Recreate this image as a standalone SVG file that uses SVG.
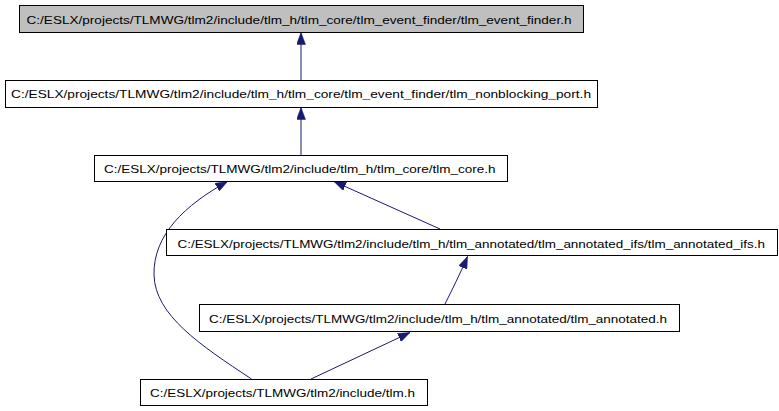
<svg xmlns="http://www.w3.org/2000/svg" width="779" height="411" viewBox="0 0 779 411">
<style>
.box{fill:#ffffff;stroke:#000000;stroke-width:1}
.gray{fill:#bfbfbf}
.lbl{font-family:"Liberation Sans",Arial,sans-serif;font-size:11.5px;fill:#000000}
.edge{fill:none;stroke:#191970;stroke-width:1;marker-end:url(#arr)}
</style>
<defs>
<marker id="arr" viewBox="0 0 12 9" markerWidth="12" markerHeight="9" refX="12" refY="4.5" orient="auto" markerUnits="userSpaceOnUse">
<path d="M0,0 L12,4.5 L0,9 z" fill="#191970" stroke="#191970" stroke-width="0.5"/>
</marker>
</defs>
<rect width="779" height="411" fill="#ffffff"/>
<g id="connectors">
<path class="edge" d="M301,80 L301,32.5"/>
<path class="edge" d="M301,155 L301,107.5"/>
<path class="edge" d="M440,229 L334,181.5"/>
<path class="edge" d="M445,304 C452,290 460,274 467.5,256.5"/>
<path class="edge" d="M311,379 L410,332.5"/>
<path class="edge" d="M251.5,379 C200,345 155,315 154,275 C153,235 185,205 227.5,181.5"/>
</g>
<g id="node1">
<rect class="box gray" x="19.5" y="5.5" width="564" height="27"/>
<text class="lbl" x="26.5" y="23.5" textLength="545" lengthAdjust="spacingAndGlyphs">C:/ESLX/projects/TLMWG/tlm2/include/tlm_h/tlm_core/tlm_event_finder/tlm_event_finder.h</text>
</g>
<g id="node2">
<rect class="box" x="5.5" y="80.5" width="592" height="27"/>
<text class="lbl" x="11" y="98" textLength="580" lengthAdjust="spacingAndGlyphs">C:/ESLX/projects/TLMWG/tlm2/include/tlm_h/tlm_core/tlm_event_finder/tlm_nonblocking_port.h</text>
</g>
<g id="node3">
<rect class="box" x="94.5" y="155.5" width="413" height="26"/>
<text class="lbl" x="104" y="173" textLength="391.5" lengthAdjust="spacingAndGlyphs">C:/ESLX/projects/TLMWG/tlm2/include/tlm_h/tlm_core/tlm_core.h</text>
</g>
<g id="node4">
<rect class="box" x="166.5" y="229.5" width="611" height="26"/>
<text class="lbl" x="177.5" y="247.5" textLength="587.5" lengthAdjust="spacingAndGlyphs">C:/ESLX/projects/TLMWG/tlm2/include/tlm_h/tlm_annotated/tlm_annotated_ifs/tlm_annotated_ifs.h</text>
</g>
<g id="node5">
<rect class="box" x="199.5" y="304.5" width="480" height="27"/>
<text class="lbl" x="209" y="322.5" textLength="458" lengthAdjust="spacingAndGlyphs">C:/ESLX/projects/TLMWG/tlm2/include/tlm_h/tlm_annotated/tlm_annotated.h</text>
</g>
<g id="node6">
<rect class="box" x="140.5" y="379.5" width="287" height="26"/>
<text class="lbl" x="150" y="397" textLength="265" lengthAdjust="spacingAndGlyphs">C:/ESLX/projects/TLMWG/tlm2/include/tlm.h</text>
</g>
</svg>
